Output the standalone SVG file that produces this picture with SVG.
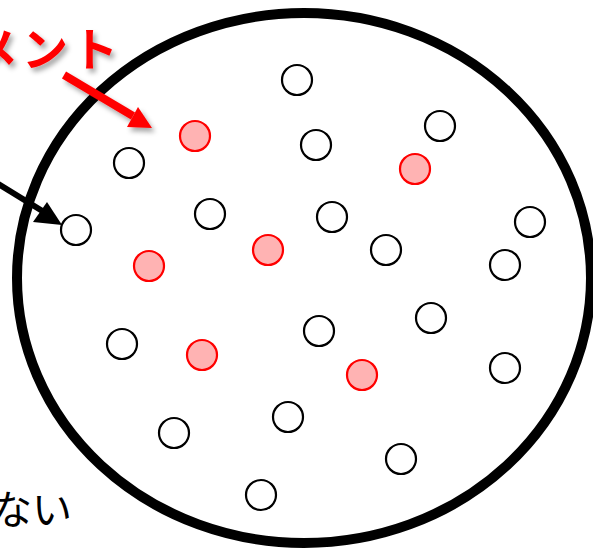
<svg xmlns="http://www.w3.org/2000/svg" width="593" height="548" viewBox="0 0 593 548">
<defs>
<style>
.n{fill:#fff;stroke:#000;stroke-width:2.2}
.r{fill:#FFB3B3;stroke:#FF0000;stroke-width:2.2}
.jp{font-family:"Noto Sans CJK JP","Noto Sans",sans-serif}
</style>
<filter id="sh" x="-20%" y="-20%" width="150%" height="150%">
<feDropShadow dx="3" dy="4" stdDeviation="2.5" flood-color="#000" flood-opacity="0.35"/>
</filter>
</defs>
<rect width="593" height="548" fill="#fff"/>
<ellipse cx="304" cy="278" rx="287" ry="265" fill="none" stroke="#000" stroke-width="10"/>
<g id="nodes">
<g id="n1"><circle class="n" cx="297" cy="80" r="15"/></g>
<g id="n2"><circle class="r" cx="195" cy="136" r="15"/></g>
<g id="n3"><circle class="n" cx="129" cy="163" r="15"/></g>
<g id="n4"><circle class="n" cx="316" cy="145" r="15"/></g>
<g id="n5"><circle class="n" cx="440" cy="126" r="15"/></g>
<g id="n6"><circle class="r" cx="415" cy="169" r="15"/></g>
<g id="n7"><circle class="n" cx="210" cy="214" r="15"/></g>
<g id="n8"><circle class="n" cx="332" cy="217" r="15"/></g>
<g id="n9"><circle class="n" cx="530" cy="222" r="15"/></g>
<g id="n10"><circle class="n" cx="76" cy="230" r="15"/></g>
<g id="n11"><circle class="r" cx="268" cy="250" r="15"/></g>
<g id="n12"><circle class="n" cx="386" cy="250" r="15"/></g>
<g id="n13"><circle class="r" cx="149" cy="266" r="15"/></g>
<g id="n14"><circle class="n" cx="505" cy="265" r="15"/></g>
<g id="n15"><circle class="n" cx="431" cy="318" r="15"/></g>
<g id="n16"><circle class="n" cx="319" cy="331" r="15"/></g>
<g id="n17"><circle class="n" cx="122" cy="344" r="15"/></g>
<g id="n18"><circle class="r" cx="202" cy="355" r="15"/></g>
<g id="n19"><circle class="n" cx="505" cy="368" r="15"/></g>
<g id="n20"><circle class="r" cx="362" cy="375" r="15"/></g>
<g id="n21"><circle class="n" cx="288" cy="417" r="15"/></g>
<g id="n22"><circle class="n" cx="174" cy="433" r="15"/></g>
<g id="n23"><circle class="n" cx="401" cy="459" r="15"/></g>
<g id="n24"><circle class="n" cx="261" cy="495" r="15"/></g>
</g>
<g id="connectors">
<g filter="url(#sh)">
<line x1="64" y1="75" x2="133" y2="116" stroke="#FF0000" stroke-width="8"/>
<polygon points="152,128 127,127 138,107" fill="#FF0000"/>
</g>
<line x1="-5" y1="182" x2="44" y2="212" stroke="#000" stroke-width="6"/>
<polygon points="62,225 33,222 47,202" fill="#000"/>
</g>
<g id="labels">
<text class="jp" x="-28" y="66" font-size="46" font-weight="bold" letter-spacing="4" fill="#FF0000" filter="url(#sh)">メント</text>
<text class="jp" x="-8" y="524" font-size="40" fill="#000">ない</text>
</g>
</svg>
